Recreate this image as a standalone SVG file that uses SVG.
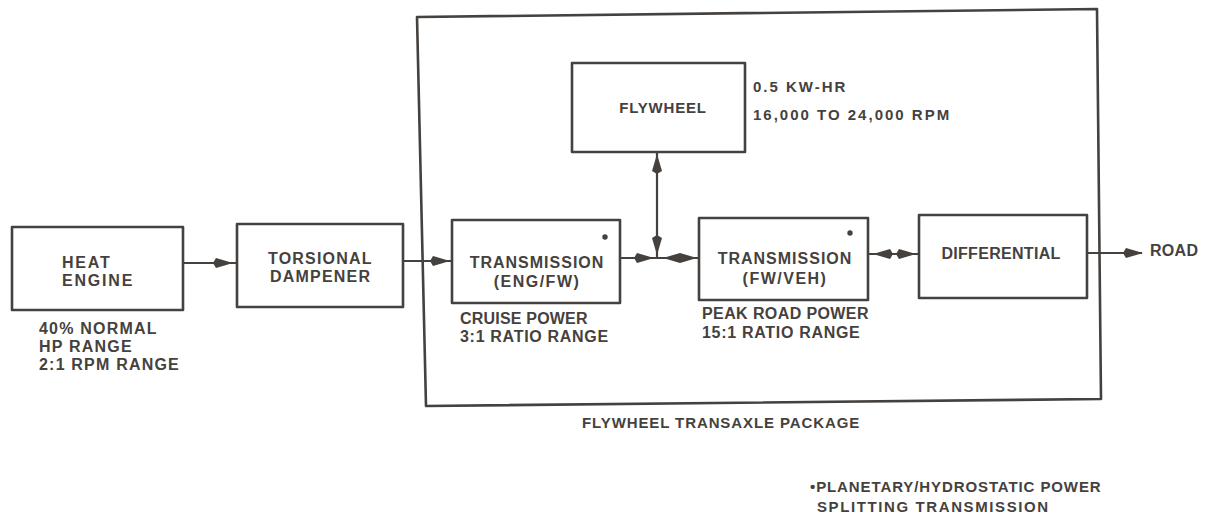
<svg xmlns="http://www.w3.org/2000/svg" xmlns:xlink="http://www.w3.org/1999/xlink" width="1211" height="517" viewBox="0 0 1211 517">
<style>
  .box{fill:none;stroke:#45413e;stroke-width:2.6;stroke-linejoin:round}
  .ln{fill:none;stroke:#45413e;stroke-width:2.2}
  .ah{fill:#45413e}
  text{font-family:"Liberation Sans",Arial,sans-serif;font-weight:bold;fill:#45413e}
  .t16{font-size:16px;letter-spacing:1px}
  .t15{font-size:15px;letter-spacing:1px}
  .c{text-anchor:middle}
</style>
<defs>
  <path id="ah" d="M0,0 L-17,-5 L-20,0 L-17,5 Z"/>
</defs>
<rect width="1211" height="517" fill="#ffffff"/>

<g id="package">
  <path class="box" d="M417,17 L1097,9 L1101,399 L426,406 Z"/>
  <text class="t15" x="582" y="428" style="letter-spacing:0.9px">FLYWHEEL TRANSAXLE PACKAGE</text>
</g>

<g id="connectors">
  <line class="ln" x1="183" y1="263" x2="237" y2="263"/>
  <use class="ah" xlink:href="#ah" transform="translate(233,263)"/>
  <line class="ln" x1="403" y1="261" x2="452" y2="261"/>
  <use class="ah" xlink:href="#ah" transform="translate(450,261)"/>
  <line class="ln" x1="620" y1="258" x2="699" y2="258"/>
  <use class="ah" xlink:href="#ah" transform="translate(654,258)"/>
  <use class="ah" xlink:href="#ah" transform="translate(663,258) rotate(180)"/>
  <use class="ah" xlink:href="#ah" transform="translate(697,258)"/>
  <line class="ln" x1="657" y1="152" x2="657" y2="258"/>
  <use class="ah" xlink:href="#ah" transform="translate(657,154) rotate(-90)"/>
  <use class="ah" xlink:href="#ah" transform="translate(657,255) rotate(90)"/>
  <line class="ln" x1="868" y1="254" x2="919" y2="254"/>
  <use class="ah" xlink:href="#ah" transform="translate(873,254) rotate(180)"/>
  <use class="ah" xlink:href="#ah" transform="translate(916,254)"/>
  <line class="ln" x1="1087" y1="253" x2="1142" y2="253"/>
  <use class="ah" xlink:href="#ah" transform="translate(1143,253)"/>
</g>

<g id="heat-engine">
  <rect class="box" x="12" y="227" width="171" height="83"/>
  <text class="t16" x="62" y="268" style="letter-spacing:1.8px">HEAT</text>
  <text class="t16" x="62" y="286" style="letter-spacing:1.8px">ENGINE</text>
  <text class="t16" x="39" y="334" style="letter-spacing:1.2px">40% NORMAL</text>
  <text class="t16" x="39" y="352" style="letter-spacing:1.2px">HP RANGE</text>
  <text class="t16" x="39" y="370" style="letter-spacing:1.2px">2:1 RPM RANGE</text>
</g>

<g id="torsional-dampener">
  <rect class="box" x="237" y="224" width="166" height="83"/>
  <text class="t16" x="268" y="264" style="letter-spacing:1.2px">TORSIONAL</text>
  <text class="t16" x="270" y="282" style="letter-spacing:1.2px">DAMPENER</text>
</g>

<g id="transmission-eng-fw">
  <rect class="box" x="452" y="220" width="168" height="83"/>
  <circle cx="605" cy="237" r="2.7" class="ah"/>
  <text class="t16 c" x="537" y="268">TRANSMISSION</text>
  <text class="t16 c" x="537" y="287" style="letter-spacing:1.5px">(ENG/FW)</text>
  <text class="t16" x="460" y="324" style="letter-spacing:0.2px">CRUISE POWER</text>
  <text class="t16" x="460" y="342" style="letter-spacing:0.7px">3:1 RATIO RANGE</text>
</g>

<g id="flywheel">
  <rect class="box" x="572" y="63" width="173" height="89"/>
  <text class="t15 c" x="663" y="113" style="letter-spacing:0.8px">FLYWHEEL</text>
  <text class="t15" x="753" y="92" style="letter-spacing:2px">0.5 KW-HR</text>
  <text class="t15" x="753" y="120" style="letter-spacing:2px">16,000 TO 24,000 RPM</text>
</g>

<g id="transmission-fw-veh">
  <rect class="box" x="699" y="218" width="169" height="82"/>
  <circle cx="850" cy="233" r="2.7" class="ah"/>
  <text class="t16 c" x="785" y="264">TRANSMISSION</text>
  <text class="t16 c" x="785" y="284" style="letter-spacing:1.5px">(FW/VEH)</text>
  <text class="t16" x="702" y="319" style="letter-spacing:0.4px">PEAK ROAD POWER</text>
  <text class="t16" x="702" y="338" style="letter-spacing:0.7px">15:1 RATIO RANGE</text>
</g>

<g id="differential">
  <rect class="box" x="919" y="215" width="168" height="83"/>
  <text class="t16 c" x="1001" y="259" style="letter-spacing:0.3px">DIFFERENTIAL</text>
</g>

<g id="road">
  <text class="t16" x="1150" y="256" style="letter-spacing:0.3px">ROAD</text>
</g>

<g id="footnote">
  <text class="t15" x="810" y="492" style="letter-spacing:0.9px">•PLANETARY/HYDROSTATIC POWER</text>
  <text class="t15" x="817" y="512" style="letter-spacing:1.6px">SPLITTING TRANSMISSION</text>
</g>
</svg>
